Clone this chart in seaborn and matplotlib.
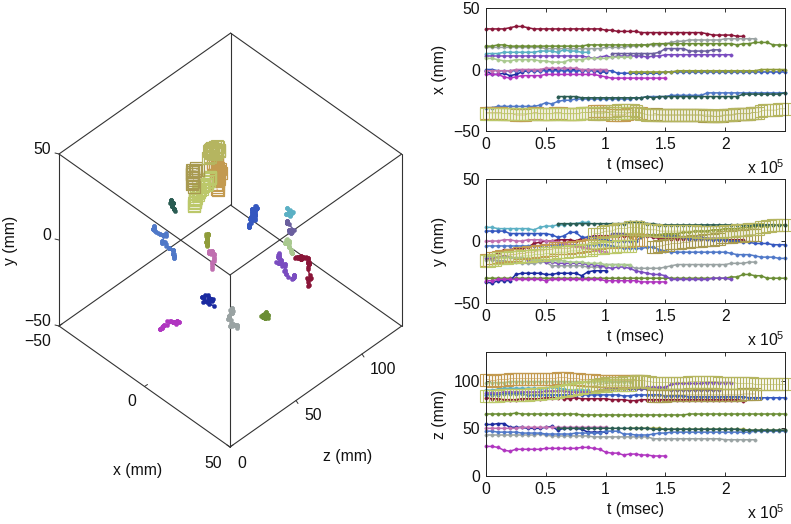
import numpy as np
import pandas as pd
import matplotlib
matplotlib.use("Agg")
import matplotlib.pyplot as plt
import seaborn as sns

DOT_STEP = 5000
SQUARE_STEP = 2500

# tracks: values read every 5000 msec from the three right panels
maroon_x = [33,33,33,33,34,35,35,34,33,33,
            33,33,33,33,33,33,33,33,33,33,
            32,32,31,31,31,31,30,30,30,30,
            30,30,30,30,30,30,30,29,28,28,
            28,28,27,27]
maroon_y = [-12,-12,-10,-7,-7,-6,-6,-5,-2,-1,
            0,0,1,1,1,0,2,3,4,4,
            4,4,4,4,4,4,4,4,3,2,
            2,2,2,2,2,2,2,2,2,2,
            1,1,1,1]
maroon_z = [82,81,81,80,80,80,81,81,81,81,
            82,82,82,81,81,82,81,81,81,81,
            81,80,80,80,79,79,80,80,80,80,
            80,80,80,80,80,80,80,80,80,80,
            80,80,80,79]

grey_x = [18,18,18,18,18,18,18,18,18,18,
          17,17,17,17,17,17,17,17,17,17,
          18,18,18,18,19,19,20,20,20,20,
          21,22,23,23,24,24,24,24,24,24,
          25,25,25,25,25,25]
grey_y = [-15,-15,-16,-16,-17,-17,-18,-18,-18,-17,
          -17,-20,-20,-20,-20,-20,-20,-21,-21,-21,
          -19,-19,-19,-19,-20,-22,-22,-22,-22,-22,
          -21,-20,-19,-19,-19,-19,-19,-19,-19,-19,
          -19,-18,-18,-18,-17,-17]
grey_z = [43,43,43,43,43,43,43,43,43,44,
          43,42,42,42,42,42,42,42,41,41,
          41,41,41,41,41,41,41,41,39,39,
          39,39,39,39,39,39,39,39,39,39,
          38,38,38,38,38,38]

green_x = [19,19,20,20,19,19,19,19,19,19,
           19,19,19,19,19,19,19,20,20,20,
           20,20,20,20,20,20,20,20,21,21,
           21,21,21,21,21,21,21,21,21,21,
           21,21,20,21,21,22,22,22,20,20,
           20]
green_y = [-30,-30,-30,-30,-30,-30,-30,-30,-30,-30,
           -30,-30,-30,-30,-30,-30,-30,-30,-30,-30,
           -30,-30,-30,-30,-30,-30,-30,-30,-30,-30,
           -30,-30,-30,-30,-30,-30,-30,-30,-30,-30,
           -30,-29,-29,-27,-27,-28,-28,-30,-30,-30,
           -30]
green_z = [65,65,65,65,65,66,65,65,65,65,
           65,65,65,65,65,65,64,64,64,64,
           64,64,64,64,64,64,64,64,64,64,
           64,64,64,64,65,65,65,65,65,65,
           65,65,65,65,65,65,65,65,65,65,
           65]

teal_x = [13,13,13,14,14,14,14,14,14,15,
          15,15,14,16,15,15,14,14]
teal_y = [11,11,10,10,10,10,10,10,9,11,
          12,12,13,13,14,14,15,15]
teal_z = [90,90,91,92,92,92,92,92,92,91,
          92,93,92,91,90,90,90,90]

violet_x = [11,11,11,11,11,11,11,11,11,11,
            11,11,11,11,11,11,11,10,9,10,
            11,10,11,11,11,11,11,10,11,11,
            12,12,12,12,12,12,12,12,12,12,
            12,12]
violet_y = [-14,-14,-13,-12,-13,-14,-14,-15,-15,-15,
            -17,-17,-18,-18,-18,-18,-18,-19,-19,-20,
            -21,-22,-21,-21,-22,-24,-25,-26,-27,-27,
            -28,-31,-31,-31,-31,-31,-31,-31,-30,-30,
            -30,-31]
violet_z = [87,87,87,88,88,88,88,88,88,88,
            89,89,89,89,88,88,88,88,88,90,
            91,91,92,92,92,92,92,93,93,93,
            93,96,97,97,97,97,97,98,98,98,
            98,98]

slate_x = [13,13,13,13,13,13,13,13,14,17,
           17,17,17,15,15,15,15,16,16]
slate_y = [6,6,6,5,5,5,5,5,5,4,
           4,4,3,3,3,3,2,2,2]
slate_z = [91,91,91,91,91,91,91,91,91,91,
           90,90,90,90,90,90,90,90,90]

lightgreen_x = [9,9,8,7,7,8,8,8,8,7,
                7,6,6,6,8,8,8,9,9,9,
                9,10,10,10,10]
lightgreen_y = [-12,-12,-13,-13,-13,-14,-14,-14,-15,-15,
                -15,-16,-16,-16,-17,-17,-17,-18,-18,-18,
                -19,-19,-19,-19,-19]
lightgreen_z = [98,98,98,98,99,99,99,99,99,99,
                99,99,99,99,99,99,99,99,99,99,
                99,99,99,99,99]

darkblue_x = [-1,-4,-4,-3,-5,-4,-2,-1,-1,-1,
              0,0,0,1,0,0,-1,0,-1,-2,
              -2]
darkblue_y = [-33,-34,-32,-32,-32,-27,-26,-26,-26,-26,
              -27,-27,-26,-26,-26,-26,-28,-25,-24,-24,
              -24]
darkblue_z = [54,54,55,55,51,51,51,50,50,50,
              51,52,48,50,50,50,49,46,46,46,
              46]

blue_x = [0,0,-1,-1,-1,-1,-1,-1,-1,-1,
          -1,-1,-1,-1,-1,-1,-1,-1,-1,-1,
          -1,-1,-3,-3,-3,-3,-3,-3,-3,-3,
          -2,-2,-2,-2,-2,-2,-2,-2,-2,-2,
          -2,-2,-2,-2,-2,-2,-2,-2,-2,-2,
          -2]
blue_y = [8,8,8,8,6,6,6,6,6,6,
          6,5,3,4,7,7,3,3,3,2,
          1,0,0,0,0,0,3,5,5,5,
          5,5,4,3,2,2,2,2,1,1,
          1,0,0,-1,-1,-2,-2,-2,-3,-3,
          -3]
blue_z = [85,85,85,86,86,86,86,85,85,85,
          85,85,85,85,85,85,85,85,85,85,
          85,85,85,84,84,85,85,85,85,85,
          84,84,84,84,83,83,83,83,83,83,
          83,83,83,83,82,82,82,82,82,82,
          82]

steel_x = [-31,-31,-30,-30,-30,-30,-30,-30,-30,-29,
           -27,-28,-26,-25,-25,-24,-24,-24,-24,-24,
           -24,-24,-24,-24,-24,-23,-23,-22,-22,-22,
           -22,-21,-21,-21,-21,-21,-21,-19,-19,-19,
           -19,-19,-19,-19,-19,-19,-19,-19,-19,-19,
           -19]
steel_y = [-4,-4,-4,-4,-4,-4,-4,-4,-4,-4,
           -3,-3,-3,-3,-3,-3,-3,-3,-3,-3,
           -3,-4,-5,-6,-6,-6,-6,-5,-5,-7,
           -8,-9,-9,-9,-9,-9,-9,-9,-9,-9,
           -9,-10,-11,-11,-11,-12,-13,-13,-13,-14,
           -14]
steel_z = [47,47,46,46,46,46,45,45,45,45,
           44,44,44,44,44,45,45,45,45,45,
           47,47,47,44,44,43,43,43,44,45,
           45,46,46,46,46,46,46,46,46,46,
           46,46,46,46,46,47,47,47,47,47,
           47]

magenta_x = [-4,-4,-4,-6,-7,-6,-5,-5,-5,-5,
             -4,-4,-4,-4,-4,-4,-4,-4,-4,-5,
             -6,-7,-7,-7,-7,-7,-7,-7,-7,-7,
             -7]
magenta_y = [-32,-32,-31,-31,-31,-31,-31,-31,-31,-31,
             -32,-31,-31,-31,-31,-31,-31,-31,-31,-31,
             -32,-32,-32,-32,-32,-32,-33,-33,-33,-33,
             -33]
magenta_z = [31,31,30,27,26,28,28,28,28,28,
             29,29,29,29,29,29,30,30,29,28,
             25,24,24,22,23,23,22,22,21,21,
             21]

mauve_x = [-1,-1,-1,-1,-1,0,0,0,0,0,
           1,1,1,1,1,1,0,0,0,0,
           0]
mauve_y = [0,0,0,1,1,0,0,1,1,1,
           0,0,-1,-2,-3,-4,-5,-6,-7,-8,
           -9]
mauve_z = [50,50,50,50,50,50,51,51,51,51,
           51,51,51,51,51,51,51,51,51,51,
           51]

olive_x = [-2,-2,-2,-2,-2,-2,-2,-2,-1,-1,
           -1,-1,-1,-1,-1,-1,-1,-1,-1,-1,
           -1,-1,0,0,0,0,0]
olive_y = [3,4,4,5,5,5,6,6,6,7,
           7,8,8,8,9,9,10,10,10,11,
           11,12,12,12,13,13,13]
olive_z = [50,50,50,50,50,50,49,49,49,49,
           49,49,49,49,49,49,49,49,49,49,
           48,48,48,48,48,48,48]

darkteal_x = [-22,-22,-22,-22,-23,-23,-23,-23,-23,-23,
              -23,-23,-23,-23,-23,-22,-23,-22,-22,-22,
              -22,-22,-22,-22,-22,-22,-22,-22,-22,-22,
              -22,-20,-20,-20,-20,-20,-20,-20,-19]
darkteal_y = [14,14,14,14,14,14,14,14,14,14,
              14,14,15,15,15,14,14,13,13,13,
              13,13,13,13,13,13,13,13,13,13,
              13,13,13,13,13,13,13,13,13]
darkteal_z = [50,50,50,50,50,50,50,50,50,50,
              50,50,50,50,50,50,49,49,49,49,
              49,49,49,49,49,49,49,49,49,49,
              49,48,48,48,48,48,48,48,48]

# square tracks, read every 2500 msec
orange_x = [-35,-35,-35,-35,-35,-35,-36,-36,-36,-36,
            -37,-37,-37,-37,-36,-36,-35,-35,-36,-36,
            -36,-36,-36,-35,-35,-35,-36,-36,-36,-36,
            -36,-36,-35,-35,-35,-35,-34,-34,-34,-34,
            -34,-35,-37,-37,-37,-37,-37,-36,-35,-35,
            -35,-35,-35]
orange_y = [-15,-15,-14,-14,-13,-12,-12,-12,-11,-11,
            -11,-10,-10,-10,-9,-9,-9,-8,-8,-8,
            -7,-7,-7,-6,-6,-6,-6,-6,-6,-5,
            -5,-5,-4,-4,-3,-3,-2,-2,-2,-1,
            -1,-1,-1,0,0,0,0,0,0,1,
            1,1,1]
orange_z = [101,101,100,100,101,101,101,101,102,102,
            102,102,102,102,102,102,102,102,102,102,
            102,102,102,102,103,103,103,103,102,102,
            102,102,101,101,101,101,101,100,100,100,
            100,100,100,100,100,100,100,100,100,100,
            100,100,100]

lime_x = [-36,-36,-36,-36,-36,-36,-36,-36,-36,-36,
          -36,-36,-36,-36,-36,-36,-36,-36,-36,-36,
          -36,-36,-36,-36,-36,-36,-36,-36,-36,-36,
          -36,-36,-35,-35,-35,-35,-35,-35,-35,-35,
          -35,-35,-35,-35,-35,-35,-35,-35,-35]
lime_y = [-16,-16,-15,-15,-14,-14,-14,-14,-13,-13,
          -13,-13,-12,-12,-12,-12,-11,-11,-11,-11,
          -10,-10,-10,-10,-9,-9,-9,-9,-8,-8,
          -8,-8,-7,-7,-7,-7,-6,-6,-6,-6,
          -5,-5,-5,-5,-4,-4,-4,-4,-4]
lime_z = [84,84,84,84,84,85,85,85,85,85,
          85,85,85,85,85,86,86,86,86,87,
          87,87,87,88,88,89,89,90,90,91,
          91,92,92,93,93,93,93,94,94,94,
          94,95,95,95,95,95,95,95,95]

brown_x = [-36,-36,-37,-37,-37,-37,-37,-37,-37,-37,
           -37,-37,-37,-37,-37,-37,-37,-38,-38,-38,
           -38,-38,-38,-38,-37,-37,-37,-37,-36,-36,
           -36,-36,-36,-35,-35]
brown_y = [-5,-5,-4,-4,-3,-3,-2,-2,-2,-2,
           -1,-1,-1,0,0,0,0,1,1,1,
           1,2,2,3,3,3,3,4,4,4,
           4,5,5,5,5]
brown_z = [84,84,84,84,84,85,85,85,85,85,
           85,85,85,85,85,85,85,85,85,85,
           85,85,85,85,85,85,85,85,85,85,
           86,86,86,86,86]

large_x = [-36,-36,-36,-36,-35,-35,-34,-34,-33,-33,
           -33,-33,-33,-33,-34,-35,-36,-36,-37,-37,
           -37,-37,-37,-37,-37,-37,-37,-37,-37,-37,
           -37,-37,-37,-37,-37,-37,-37,-37,-37,-37,
           -38,-38,-38,-37,-37,-37,-37,-36,-36,-36,
           -36,-36,-36,-35,-35,-35,-34,-33,-33,-33,
           -33,-33,-32,-32,-32]
large_y = [6,6,6,7,8,8,8,9,10,10,
           10,10,11,11,11,11,10,10,9,9,
           9,9,8,8,8,8,8,8,8,8,
           8,8,8,8,8,7,7,7,7,7,
           7,7,7,7,8,8,8,8,9,9,
           9,9,10,10,10,10,11,11,12,12,
           13,13,13,13,13]
large_z = [95,95,96,96,97,97,98,98,98,98,
           99,99,99,99,100,100,100,100,99,99,
           98,98,98,98,98,98,98,98,98,98,
           98,98,99,99,99,99,99,99,99,99,
           99,99,98,98,98,98,98,98,97,97,
           97,97,97,97,96,96,96,96,96,96,
           96,96,96,96,96]

# start time, colour, x, y, z
dot_tracks = [
    (0, "#8a1538", maroon_x, maroon_y, maroon_z),
    (0, "#9aa3a3", grey_x, grey_y, grey_z),
    (0, "#6b8e35", green_x, green_y, green_z),
    (0, "#5bb0c4", teal_x, teal_y, teal_z),
    (0, "#7a4cc0", violet_x, violet_y, violet_z),
    (105000, "#6a5f9e", slate_x, slate_y, slate_z),
    (0, "#a9c98f", lightgreen_x, lightgreen_y, lightgreen_z),
    (0, "#1a2aa0", darkblue_x, darkblue_y, darkblue_z),
    (0, "#3558c0", blue_x, blue_y, blue_z),
    (0, "#4f78c8", steel_x, steel_y, steel_z),
    (0, "#b035c0", magenta_x, magenta_y, magenta_z),
    (0, "#c06fb0", mauve_x, mauve_y, mauve_z),
    (120000, "#8f9c3a", olive_x, olive_y, olive_z),
    (60000, "#2a5c52", darkteal_x, darkteal_y, darkteal_z),
]
square_tracks = [
    (0, "#c39a50", orange_x, orange_y, orange_z),
    (0, "#bcc86a", lime_x, lime_y, lime_z),
    (140000, "#a89a50", brown_x, brown_y, brown_z),
    (90000, "#b5b560", large_x, large_y, large_z),
]

t_ticks = [0, 50000, 100000, 150000, 200000]
t_labels = ["0", "0.5", "1", "1.5", "2"]
panel_ticks = {"x": [-50, 0, 50], "y": [-50, 0, 50], "z": [0, 50, 100]}
panel_lims = {"x": (-50, 50), "y": (-50, 50), "z": (0, 130)}
panel_boxes = {"x": (8, 131), "y": (179, 303), "z": (352, 476)}

W, H = 791, 524
FS = 11.3


def project(x, y, z):
    # oblique view of the box, in figure pixels
    px = 59 + 1.71 * (np.asarray(x) + 50) + 1.32 * np.asarray(z)
    py = 326 + 1.21 * (np.asarray(x) + 50) - 0.93 * np.asarray(z) - 1.72 * (np.asarray(y) + 50)
    return px, py


def make_frame(t0, step, x, y, z):
    n = min(len(x), len(y), len(z))
    df = pd.DataFrame({"t": t0 + step * np.arange(n), "x": x[:n], "y": y[:n], "z": z[:n]})
    df["px"], df["py"] = project(df["x"], df["y"], df["z"])
    return df


def draw_dots(df, xcol, ycol, color, ms, ax):
    sns.lineplot(data=df, x=xcol, y=ycol, ax=ax, color=color, estimator=None, sort=False,
                 linewidth=1.1, marker="o", markersize=ms, markerfacecolor=color,
                 markeredgecolor=color, markeredgewidth=0.3, clip_on=False)


def draw_squares(df, xcol, ycol, color, ax):
    sns.lineplot(data=df, x=xcol, y=ycol, ax=ax, color=color, estimator=None, sort=False,
                 linewidth=0.4, marker="s", markersize=8, markerfacecolor="none",
                 markeredgecolor=color, markeredgewidth=0.8, clip_on=False)


sns.set_style("ticks")
plt.rcParams["font.family"] = ["Liberation Sans", "DejaVu Sans"]
plt.rcParams["mathtext.default"] = "regular"

fig = plt.figure(figsize=(W / 100, H / 100), dpi=100)

# left: 3d box
ax3 = fig.add_axes([0, 0, 1, 1])
edges = [
    ((-50, 50, 0), (50, 50, 0)),
    ((-50, 50, 0), (-50, 50, 130)),
    ((50, 50, 0), (50, 50, 130)),
    ((-50, 50, 130), (50, 50, 130)),
    ((-50, -50, 0), (-50, 50, 0)),
    ((50, -50, 130), (50, 50, 130)),
    ((-50, -50, 0), (50, -50, 0)),
    ((50, -50, 0), (50, -50, 130)),
    ((-50, -50, 0), (-50, -50, 130)),
    ((-50, -50, 130), (50, -50, 130)),
    ((-50, -50, 130), (-50, 50, 130)),
    ((50, -50, 0), (50, 50, 0)),
]
for a, b in edges:
    pa = project(*a)
    pb = project(*b)
    ax3.plot([pa[0], pb[0]], [pa[1], pb[1]], color="#333333", lw=0.8, zorder=1)

# small ticks on the three labelled axes
for v in [-50, 0, 50]:
    p = project(v, -50, 0)
    ax3.plot([p[0], p[0] + 3], [p[1], p[1] - 2], color="#333333", lw=0.7)
    p = project(-50, v, 0)
    ax3.plot([p[0], p[0] - 4], [p[1], p[1] - 1], color="#333333", lw=0.7)
for v in [0, 50, 100]:
    p = project(50, -50, v)
    ax3.plot([p[0], p[0] - 3 if v == 0 else p[0] + 2], [p[1], p[1] - 2 if v == 0 else p[1] + 3],
             color="#333333", lw=0.7)

for t0, color, x, y, z in dot_tracks:
    draw_dots(make_frame(t0, DOT_STEP, x, y, z), "px", "py", color, 3.0, ax3)
for t0, color, x, y, z in square_tracks:
    draw_squares(make_frame(t0, SQUARE_STEP, x, y, z), "px", "py", color, ax3)

ax3.set_xlim(0, W)
ax3.set_ylim(H, 0)
ax3.axis("off")

for label, px, py in [("50", 42, 150), ("0", 47, 236), ("\u221250", 38, 322), ("\u221250", 38, 341),
                      ("0", 132, 402), ("50", 213, 463), ("0", 242, 463), ("50", 313, 416),
                      ("100", 383, 369)]:
    ax3.text(px, py, label, ha="center", va="center", fontsize=FS, color="#111111")
ax3.text(138, 470, "x (mm)", ha="center", va="center", fontsize=FS, color="#111111")
ax3.text(348, 457, "z (mm)", ha="center", va="center", fontsize=FS, color="#111111")
ax3.text(10, 240, "y (mm)", ha="center", va="center", rotation=90, fontsize=FS, color="#111111")

# right: coordinate against time
for col, (top, bottom) in panel_boxes.items():
    ax = fig.add_axes([486 / W, 1 - bottom / H, 299 / W, (bottom - top) / H])
    ax.set_xlim(0, 250000)
    ax.set_ylim(*panel_lims[col])
    for t0, color, x, y, z in dot_tracks:
        draw_dots(make_frame(t0, DOT_STEP, x, y, z), "t", col, color, 2.4, ax)
    for t0, color, x, y, z in square_tracks:
        draw_squares(make_frame(t0, SQUARE_STEP, x, y, z), "t", col, color, ax)
    ax.set_xlim(0, 250000)
    ax.set_ylim(*panel_lims[col])
    ax.set_xticks(t_ticks)
    ax.set_xticklabels(t_labels)
    ax.set_yticks(panel_ticks[col])
    ax.tick_params(direction="in", length=3, width=0.6, top=True, right=True,
                   labelsize=FS, pad=4, colors="#111111")
    for s in ax.spines.values():
        s.set_linewidth(0.7)
        s.set_color("#222222")
        s.set_visible(True)
    ax.set_xlabel("t (msec)", fontsize=FS, labelpad=4, color="#111111")
    ax.set_ylabel(col + " (mm)", fontsize=FS, color="#111111")
    ax.yaxis.set_label_coords(-39 / 299, 0.5)
    ax.text(1.0, -37 / (bottom - top), "x 10$^5$", transform=ax.transAxes, ha="right", va="center",
            fontsize=FS, color="#111111")

fig.savefig("out.png", dpi=100)
